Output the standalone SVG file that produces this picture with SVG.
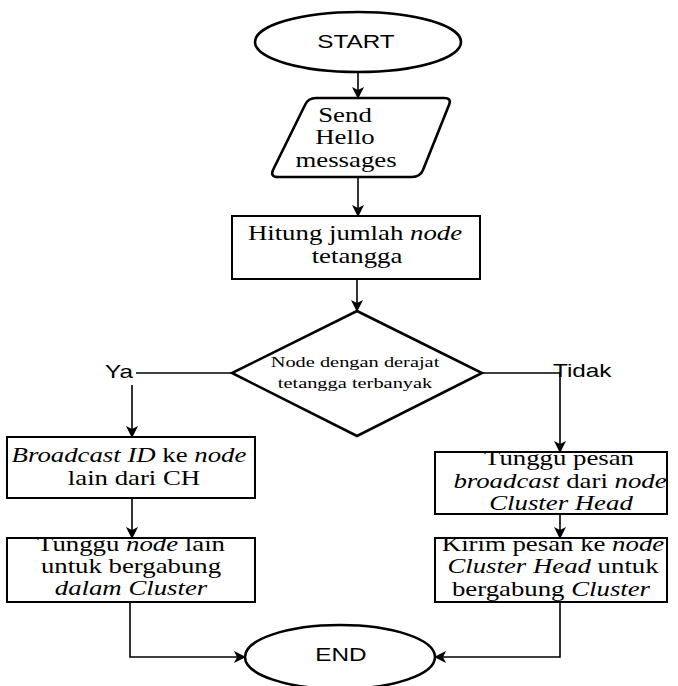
<svg xmlns="http://www.w3.org/2000/svg" width="678" height="686" viewBox="0 0 678 686">
  <style>
    .shape { fill: #ffffff; stroke: #000000; stroke-width: 2; }
    .thick { stroke-width: 2.6; }
    .edge { fill: none; stroke: #000000; stroke-width: 1.6; }
    .serif { font-family: "Liberation Serif", "Times New Roman", serif; font-size: 20px; fill: #000; text-anchor: middle; }
    .small { font-size: 15px; }
    .sans { font-family: "Liberation Sans", Arial, sans-serif; font-size: 18px; fill: #000; text-anchor: middle; }
    .sans-l { font-family: "Liberation Sans", Arial, sans-serif; font-size: 18px; fill: #000; text-anchor: start; }
    .it { font-style: italic; }
  </style>
  <defs>
    <marker id="arrow" viewBox="0 0 12 12" refX="11" refY="6" markerWidth="12" markerHeight="12" markerUnits="userSpaceOnUse" orient="auto">
      <path d="M0,0 L12,6 L0,12 L3,6 Z" fill="#000"/>
    </marker>
  </defs>

  <rect width="678" height="686" fill="#ffffff"/>

  <!-- connectors -->
  <g id="connectors">
    <path class="edge" d="M358,72 L358,98" marker-end="url(#arrow)"/>
    <path class="edge" d="M358,177 L358,216" marker-end="url(#arrow)"/>
    <path class="edge" d="M357,279 L357,311" marker-end="url(#arrow)"/>
    <path class="edge" d="M232,373 L136,373"/>
    <path class="edge" d="M132,385 L132,437" marker-end="url(#arrow)"/>
    <path class="edge" d="M132,498 L132,538" marker-end="url(#arrow)"/>
    <path class="edge" d="M130,602 L130,657 L245,657" marker-end="url(#arrow)"/>
    <path class="edge" d="M482,373 L560,373 L560,452" marker-end="url(#arrow)"/>
    <path class="edge" d="M560,514 L560,538" marker-end="url(#arrow)"/>
    <path class="edge" d="M560,602 L560,657 L435,657" marker-end="url(#arrow)"/>
    <text class="sans" transform="matrix(1.35 0 0 1 119 378)">Ya</text>
    <text class="sans-l" transform="matrix(1.35 0 0 1 553 377)">Tidak</text>
  </g>

  <g id="start">
    <ellipse class="shape thick" cx="358" cy="42" rx="103" ry="30"/>
    <text class="sans" transform="matrix(1.35 0 0 1 356 48)">START</text>
  </g>

  <g id="send-hello">
    <path class="shape thick" d="M316,98 L444,98 Q452,98 449,105 L423,170 Q420,177 412,177 L278,177 Q270,177 273,170 L305,105 Q308,98 316,98 Z"/>
    <text class="serif" transform="matrix(1.34 0 0 1 345 122)">Send</text>
    <text class="serif" transform="matrix(1.34 0 0 1 345 144)">Hello</text>
    <text class="serif" transform="matrix(1.34 0 0 1 346 167)">messages</text>
  </g>

  <g id="hitung">
    <rect class="shape" x="232" y="216" width="248" height="63"/>
    <text class="serif" transform="matrix(1.34 0 0 1 355 240)">Hitung jumlah <tspan class="it">node</tspan></text>
    <text class="serif" transform="matrix(1.34 0 0 1 357 263)">tetangga</text>
  </g>

  <g id="decision">
    <polygon class="shape thick" points="357,311 482,373 357,436 232,373"/>
    <text class="serif small" transform="matrix(1.36 0 0 1 355 367)">Node dengan derajat</text>
    <text class="serif small" transform="matrix(1.36 0 0 1 355 388)">tetangga terbanyak</text>
  </g>

  <g id="broadcast-id">
    <rect class="shape" x="7" y="437" width="248" height="61"/>
    <text class="serif" transform="matrix(1.34 0 0 1 129 462)"><tspan class="it">Broadcast ID</tspan> ke <tspan class="it">node</tspan></text>
    <text class="serif" transform="matrix(1.34 0 0 1 134 485)">lain dari CH</text>
  </g>

  <g id="tunggu-node">
    <rect class="shape" x="7" y="538" width="248" height="64"/>
    <text class="serif" transform="matrix(1.34 0 0 1 131 551)">Tunggu <tspan class="it">node</tspan> lain</text>
    <text class="serif" transform="matrix(1.34 0 0 1 131 573)">untuk bergabung</text>
    <text class="serif" transform="matrix(1.34 0 0 1 131 595)"><tspan class="it">dalam Cluster</tspan></text>
  </g>

  <g id="tunggu-pesan">
    <rect class="shape" x="435" y="452" width="232" height="62"/>
    <text class="serif" transform="matrix(1.34 0 0 1 559 465)">Tunggu pesan</text>
    <text class="serif" transform="matrix(1.34 0 0 1 560 488)"><tspan class="it">broadcast</tspan> dari <tspan class="it">node</tspan></text>
    <text class="serif" transform="matrix(1.34 0 0 1 561 510)"><tspan class="it">Cluster Head</tspan></text>
  </g>

  <g id="kirim-pesan">
    <rect class="shape" x="435" y="538" width="232" height="64"/>
    <text class="serif" transform="matrix(1.34 0 0 1 553 551)">Kirim pesan ke <tspan class="it">node</tspan></text>
    <text class="serif" transform="matrix(1.34 0 0 1 553 573)"><tspan class="it">Cluster Head</tspan> untuk</text>
    <text class="serif" transform="matrix(1.34 0 0 1 551 596)">bergabung <tspan class="it">Cluster</tspan></text>
  </g>

  <g id="end">
    <ellipse class="shape thick" cx="340" cy="657" rx="95" ry="32"/>
    <text class="sans" transform="matrix(1.35 0 0 1 341 661)">END</text>
  </g>
</svg>
